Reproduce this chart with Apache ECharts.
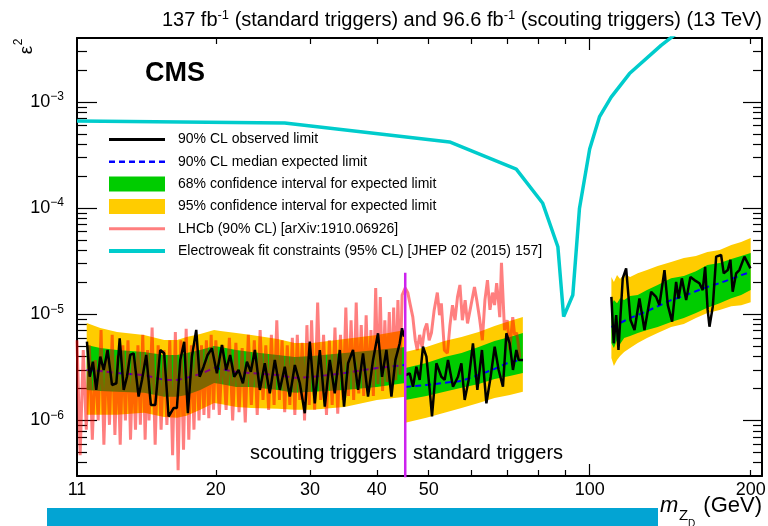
<!DOCTYPE html>
<html><head><meta charset="utf-8">
<script src="https://cdn.jsdelivr.net/npm/echarts@6/dist/echarts.min.js"></script>
<style>html,body{margin:0;padding:0;background:#fff}#c{width:768px;height:526px}</style>
</head><body><div id="c"></div>
<script>
// ---------- axis ticks / labels ----------
const xLabelValues = [11, 20, 30, 40, 50, 100, 200];
const xMajorTicks = [100];
const xMinorTicks = [20, 30, 40, 50, 60, 70, 80, 90, 200];
const yLabelValues = [1e-6, 1e-5, 1e-4, 1e-3];
const yMinorTicks = [4e-7,5e-7,6e-7,7e-7,8e-7,9e-7,2e-6,3e-6,4e-6,5e-6,6e-6,7e-6,8e-6,9e-6,
  2e-5,3e-5,4e-5,5e-5,6e-5,7e-5,8e-5,9e-5,2e-4,3e-4,4e-4,5e-4,6e-4,7e-4,8e-4,9e-4,2e-3,3e-3];

// ---------- scouting region (11.5 - 45 GeV) ----------
const scoutBandMass = [11.47,12.16,13.07,14.68,16.01,16.93,17.63,18.7,19.85,20.4,21.84,23.3,26.1,28.1,30.3,34.8,40.0,45.2];
const scoutYellowHi = [8.28e-6,7.44e-6,6.82e-6,6.39e-6,5.73e-6,5.73e-6,6.12e-6,6.53e-6,7.12e-6,6.97e-6,6.67e-6,6.39e-6,5.86e-6,5.37e-6,5.37e-6,5.86e-6,6.39e-6,7.12e-6];
const scoutGreenHi  = [5.14e-6,4.81e-6,4.61e-6,4.41e-6,4.14e-6,4.14e-6,4.32e-6,4.61e-6,5.03e-6,4.92e-6,4.61e-6,4.41e-6,4.14e-6,3.96e-6,4.05e-6,4.32e-6,4.61e-6,4.92e-6];
const scoutMedian   = [2.99e-6,2.93e-6,2.80e-6,2.68e-6,2.41e-6,2.41e-6,2.52e-6,2.74e-6,3.12e-6,3.06e-6,2.86e-6,2.80e-6,2.68e-6,2.52e-6,2.57e-6,2.80e-6,3.12e-6,3.33e-6];
const scoutGreenLo  = [1.94e-6,1.90e-6,1.86e-6,1.82e-6,1.67e-6,1.67e-6,1.74e-6,1.94e-6,2.26e-6,2.21e-6,2.07e-6,2.07e-6,1.94e-6,1.82e-6,1.86e-6,1.94e-6,2.07e-6,2.26e-6];
const scoutYellowLo = [1.13e-6,1.13e-6,1.13e-6,1.18e-6,1.08e-6,1.06e-6,1.11e-6,1.26e-6,1.46e-6,1.43e-6,1.34e-6,1.31e-6,1.29e-6,1.26e-6,1.26e-6,1.34e-6,1.56e-6,1.67e-6];
const scoutObsMass = [11.48,11.62,11.78,11.95,12.16,12.34,12.55,12.79,13.03,13.22,13.45,13.64,13.83,14.04,14.34,14.55,14.82,15.12,15.41,15.74,
  16.01,16.32,16.67,16.91,17.16,17.45,17.73,18.04,18.38,18.65,18.97,19.30,19.66,20.09,20.53,20.91,21.27,21.64,22.05,22.47,
  22.86,23.25,23.66,24.17,24.69,25.23,25.78,26.34,26.91,27.50,28.10,28.71,29.33,29.97,30.62,31.29,31.97,32.66,33.37,34.10,
  34.73,35.34,36.10,36.89,37.69,38.51,39.35,40.20,40.90,41.68,42.59,43.33,44.14,44.58,44.96];
const scoutObs = [5.52e-6,2.58e-6,3.58e-6,1.94e-6,3.99e-6,2.99e-6,4.61e-6,2.16e-6,2.24e-6,5.94e-6,
  1.94e-6,2.58e-6,4.14e-6,4.29e-6,1.68e-6,2.41e-6,4.14e-6,1.40e-6,1.40e-6,4.61e-6,
  4.29e-6,1.09e-6,1.31e-6,1.31e-6,3.72e-6,5.52e-6,1.17e-6,3.99e-6,7.12e-6,2.58e-6,
  3.21e-6,4.14e-6,4.78e-6,2.78e-6,5.14e-6,2.99e-6,4.14e-6,2.58e-6,2.99e-6,2.24e-6,
  3.58e-6,2.88e-6,4.61e-6,1.94e-6,3.46e-6,1.80e-6,3.72e-6,1.94e-6,3.21e-6,1.68e-6,
  3.33e-6,2.24e-6,1.17e-6,5.52e-6,1.45e-6,4.61e-6,1.35e-6,3.72e-6,1.80e-6,4.61e-6,
  1.35e-6,3.46e-6,4.61e-6,1.94e-6,4.29e-6,1.68e-6,3.72e-6,6.63e-6,2.58e-6,4.61e-6,
  1.68e-6,3.72e-6,5.33e-6,7.38e-6,6.16e-6];

// ---------- standard-trigger region (45 - 75 GeV) ----------
const stdBandMass = [45.2,49.5,53.5,57.6,62.0,66.4,70.9,75.0];
const stdYellowHi = [4.41e-6,4.92e-6,5.61e-6,6.12e-6,6.82e-6,7.76e-6,8.65e-6,9.43e-6];
const stdGreenHi  = [3.12e-6,3.47e-6,3.96e-6,4.32e-6,4.92e-6,5.61e-6,6.12e-6,6.67e-6];
const stdMedian   = [2.07e-6,2.16e-6,2.26e-6,2.36e-6,2.68e-6,3.06e-6,3.56e-6,3.72e-6];
const stdGreenLo  = [1.56e-6,1.70e-6,1.86e-6,2.03e-6,2.21e-6,2.46e-6,2.62e-6,2.80e-6];
const stdYellowLo = [9.50e-7,1.06e-6,1.18e-6,1.31e-6,1.46e-6,1.63e-6,1.74e-6,1.86e-6];
const stdObsMass = [45.3,46.08,46.74,47.42,48.10,48.79,49.51,50.22,50.72,51.69,52.81,53.57,54.34,55.52,56.72,57.56,
  58.38,59.39,60.50,61.66,62.89,64.10,65.29,66.43,67.58,68.84,69.86,70.86,71.87,72.93,73.65,75.03];
const stdObs = [2.68e-6,2.78e-6,2.08e-6,3.21e-6,2.41e-6,4.95e-6,3.99e-6,1.94e-6,1.09e-6,3.46e-6,2.58e-6,2.41e-6,3.72e-6,2.08e-6,2.58e-6,3.46e-6,
  1.56e-6,2.41e-6,5.33e-6,1.94e-6,4.61e-6,1.45e-6,2.58e-6,4.95e-6,2.99e-6,2.08e-6,6.63e-6,5.33e-6,2.99e-6,4.61e-6,3.72e-6,3.72e-6];

// ---------- high-mass region (110 - 200 GeV) ----------
const highBandMass = [109.8,111,112.5,114,116,119,123,128,134,142,150,158,166,175,184,192,200];
const highYellowHi = [2.24e-5,2.01e-5,2.34e-5,2.15e-5,2.39e-5,2.24e-5,2.44e-5,2.61e-5,2.85e-5,3.11e-5,3.39e-5,3.54e-5,3.86e-5,4.03e-5,4.50e-5,4.80e-5,5.23e-5];
const highGreenHi  = [1.22e-5,1.36e-5,1.27e-5,1.42e-5,1.36e-5,1.49e-5,1.52e-5,1.69e-5,1.89e-5,2.19e-5,2.29e-5,2.55e-5,2.91e-5,3.04e-5,3.32e-5,3.54e-5,3.78e-5];
const highMedian   = [7.59e-6,7.76e-6,7.93e-6,8.28e-6,8.65e-6,9.23e-6,9.84e-6,1.07e-5,1.19e-5,1.36e-5,1.49e-5,1.65e-5,1.81e-5,1.97e-5,2.15e-5,2.34e-5,2.50e-5];
const highGreenLo  = [5.37e-6,4.81e-6,5.73e-6,5.25e-6,5.98e-6,6.25e-6,6.67e-6,7.12e-6,7.59e-6,8.47e-6,9.23e-6,1.03e-5,1.15e-5,1.27e-5,1.42e-5,1.52e-5,1.69e-5];
const highYellowLo = [3.88e-6,3.26e-6,3.72e-6,4.05e-6,4.41e-6,4.81e-6,5.37e-6,5.98e-6,6.67e-6,7.59e-6,8.11e-6,9.23e-6,1.03e-5,1.10e-5,1.19e-5,1.22e-5,1.30e-5];
const highObsMass = [109.8,110.9,112.1,113.2,115.3,117.0,119.2,121.3,123.9,126.6,130.3,133.1,135.0,138.0,140.0,142.6,145.1,146.6,148.7,
  151.5,154.3,157.0,160.4,162.7,164.4,166.2,167.5,169.9,172.4,176.1,178.1,181.2,183.3,185.1,187.9,190.5,194.7,199.8];
const highObs = [1.46e-5,5.33e-6,9.84e-6,4.61e-6,2.18e-5,2.71e-5,8.84e-6,7.12e-6,1.41e-5,7.12e-6,1.63e-5,1.46e-5,1.22e-5,2.61e-5,1.22e-5,8.52e-6,2.02e-5,1.41e-5,2.18e-5,
  1.36e-5,2.25e-5,2.10e-5,1.96e-5,1.69e-5,2.80e-5,1.10e-5,7.64e-6,1.18e-5,3.49e-5,3.62e-5,2.43e-5,2.61e-5,3.25e-5,1.63e-5,2.43e-5,2.61e-5,3.49e-5,2.71e-5];

// ---------- LHCb (90% CL) ----------
const lhcbMass = [11.00,11.15,11.30,11.45,11.60,11.75,11.90,12.05,12.20,12.35,12.50,12.65,12.80,12.95,13.10,13.25,13.40,13.55,13.70,13.85,14.00,14.15,14.30,14.45,14.60,14.75,14.90,
  15.0,15.2,15.4,15.6,15.8,16.0,16.2,16.4,16.6,16.8,17.0,17.2,17.4,17.6,17.8,18.0,18.2,18.4,18.6,18.8,19.0,19.2,19.4,19.6,19.8,
  20.0,20.3,20.6,20.9,21.2,21.5,21.8,22.1,22.4,22.7,23.0,23.3,23.6,23.9,24.2,24.5,24.8,25.1,25.4,25.7,26.0,26.3,26.6,26.9,27.2,27.5,27.8,28.1,28.4,28.7,29.0,29.3,29.6,29.9,
  30.2,30.6,31.0,31.4,31.8,32.2,32.6,33.0,33.4,33.8,34.2,34.6,35.0,35.4,35.8,36.2,36.6,37.0,37.4,37.8,38.2,38.6,39.0,39.4,39.8,40.2,40.6,41.0,41.4,41.8,42.2,42.6,43.0,43.4,43.8,44.2,44.6,
  45.2,45.7,46.2,46.7,47.2,47.6,48.1,48.6,49.1,49.6,50.1,50.6,51.2,51.9,52.4,52.8,53.2,53.5,54.2,54.8,
  55.4,56.0,56.6,57.2,57.8,58.5,59.1,60.0,60.9,61.5,62.2,63.0,63.7,64.4,65.1,65.8,66.4,67.0,67.5,67.9,
  68.4,68.9,69.3,70.1,70.9,71.8,72.4,73.0,73.6,74.0];
const lhcbVal = [5.7e-6,4.7e-7,4.6e-6,8.2e-7,5.1e-6,6.6e-7,3.7e-6,1.0e-6,7.1e-6,5.9e-7,4.6e-6,9.1e-7,6.4e-6,7.3e-7,4.1e-6,5.9e-7,5.1e-6,1.0e-6,5.7e-6,6.6e-7,4.1e-6,8.2e-7,5.1e-6,9.1e-7,6.4e-6,6.6e-7,4.6e-6,
  1.0e-6,7.5e-6,5.9e-7,5.1e-6,8.2e-7,4.6e-6,9.1e-7,5.7e-6,4.7e-7,6.8e-6,3.4e-7,5.7e-6,5.3e-7,7.3e-6,6.6e-7,5.1e-6,8.2e-7,5.4e-6,1.0e-6,5.1e-6,1.13e-6,5.7e-6,1.05e-6,6.4e-6,1.26e-6,
  5.7e-6,1.13e-6,5.1e-6,1.26e-6,6.0e-6,1.0e-6,5.4e-6,1.2e-6,4.8e-6,9.6e-7,6.4e-6,1.4e-6,5.7e-6,1.13e-6,7.1e-6,1.56e-6,5.1e-6,1.26e-6,6.4e-6,1.4e-6,8.8e-6,1.56e-6,5.7e-6,1.2e-6,5.1e-6,1.4e-6,6.0e-6,1.13e-6,6.4e-6,1.56e-6,5.4e-6,1.0e-6,7.9e-6,1.4e-6,
  8.8e-6,1.26e-6,1.29e-5,1.56e-6,6.4e-6,1.13e-6,5.7e-6,1.4e-6,7.5e-6,1.16e-6,6.4e-6,1.56e-6,1.16e-5,1.7e-6,8.8e-6,1.56e-6,1.29e-5,1.8e-6,7.9e-6,1.7e-6,9.8e-6,1.9e-6,7.1e-6,1.7e-6,1.77e-5,2.2e-6,1.45e-5,1.9e-6,8.8e-6,2.3e-6,1.05e-5,2.0e-6,1.16e-5,2.4e-6,1.36e-5,2.7e-6,1.52e-5,
  1.77e-5,1.60e-5,1.22e-5,9.4e-6,5.7e-6,4.6e-6,6.4e-6,4.9e-6,7.1e-6,8.2e-6,5.7e-6,6.7e-6,1.10e-5,1.60e-5,9.8e-6,1.27e-5,7.1e-6,4.6e-6,4.3e-6,7.9e-6,
  1.22e-5,8.8e-6,1.45e-5,1.89e-5,8.8e-6,1.36e-5,8.2e-6,1.22e-5,1.81e-5,1.36e-5,9.4e-6,5.7e-6,1.36e-5,2.10e-5,1.10e-5,1.60e-5,1.22e-5,1.97e-5,1.36e-5,9.4e-6,
  3.05e-5,1.36e-5,7.1e-6,8.8e-6,4.6e-6,9.4e-6,6.4e-6,6.7e-6,5.1e-6,3.9e-6];

// ---------- Electroweak fit constraints ----------
const ewMass = [11, 26.9, 54.7, 72.9, 81.7, 87.2, 89.4, 93.0, 95.7, 100, 104.3, 109.7, 118.7, 136, 150];
const ewVal  = [6.62e-4, 6.34e-4, 4.2e-4, 2.33e-4, 1.11e-4, 4.33e-5, 9.5e-6, 1.52e-5, 9.93e-5, 3.6e-4, 7.22e-4, 1.11e-3, 1.85e-3, 3.41e-3, 5.0e-3];

// ---------- trigger boundary ----------
const boundaryMass = 45.2;
const boundaryTop = 2.46e-5;

// ================= chart =================
const FONT = '"Liberation Sans", Arial, Helvetica, sans-serif';
const N_OBS = '90% CL observed limit';
const N_MED = '90% CL median expected limit';
const N_68 = '68% confidence interval for expected limit';
const N_95 = '95% confidence interval for expected limit';
const N_LHCB = 'LHCb (90% CL) [arXiv:1910.06926]';
const N_EW = 'Electroweak fit constraints (95% CL) [JHEP 02 (2015) 157]';
const YELLOW = '#FFCC00', GREEN = '#00CC00';

const zip = (a, b) => a.map((m, i) => [m, b[i]]);

function band(name, masses, lo, hi, color, z) {
  const data = masses.map((m, i) => [m, lo[i], hi[i]]);
  return {
    type: 'custom', name: name, z: z, silent: true,
    itemStyle: {color: color},
    encode: {x: 0, y: [1, 2]},
    data: data,
    renderItem: function (params, api) {
      if (params.dataIndex !== 0) return null;
      const up = data.map(d => api.coord([d[0], d[2]]));
      const dn = data.map(d => api.coord([d[0], d[1]])).reverse();
      return {type: 'polygon', shape: {points: up.concat(dn)}, style: {fill: color}};
    }
  };
}
function line(name, data, style, z) {
  return {type: 'line', name: name, data: data, symbol: 'none', showSymbol: false, z: z,
    lineStyle: style, itemStyle: {color: style.color}, clip: true, silent: true};
}

const X_MIN = 11, X_MAX = 210, Y_MIN = 3e-7, Y_MAX = 4e-3;
const tickLS = {color: '#000', width: 1.2};
function xAx(pos, len, ticks, showLine, labels) {
  return {
    type: 'log', logBase: 10, min: X_MIN, max: X_MAX, position: pos,
    axisLine: {show: showLine, onZero: false, lineStyle: {color: '#000', width: 2}},
    axisTick: {show: true, inside: true, length: len, customValues: ticks, lineStyle: tickLS},
    axisLabel: labels ? {show: true, customValues: labels, fontSize: 18, color: '#000', fontFamily: FONT, margin: 5,
      formatter: v => String(Math.round(v))} : {show: false},
    splitLine: {show: false}, minorTick: {show: false}, minorSplitLine: {show: false}
  };
}
function yAx(pos, len, ticks, showLine, labels) {
  return {
    type: 'log', logBase: 10, min: Y_MIN, max: Y_MAX, position: pos,
    axisLine: {show: showLine, onZero: false, lineStyle: {color: '#000', width: 2}},
    axisTick: {show: true, inside: true, length: len, customValues: ticks, lineStyle: tickLS},
    axisLabel: labels ? {show: true, customValues: labels, color: '#000', fontFamily: FONT, margin: 13,
      formatter: v => '{a|10}{b|−' + Math.abs(Math.round(Math.log10(v))) + '}',
      rich: {a: {fontSize: 18, lineHeight: 22, verticalAlign: 'middle', fontFamily: FONT, color: '#000'},
             b: {fontSize: 12, lineHeight: 12, verticalAlign: 'top', fontFamily: FONT, color: '#000'}}} : {show: false},
    splitLine: {show: false}, minorTick: {show: false}, minorSplitLine: {show: false}
  };
}

const noSym = {opacity: 0};
const chart = echarts.init(document.getElementById('c'), null, {renderer: 'canvas'});
chart.setOption({
  animation: false,
  backgroundColor: '#fff',
  textStyle: {fontFamily: FONT},
  title: {
    text: '137 fb{s|-1} (standard triggers) and 96.6 fb{s|-1} (scouting triggers) (13 TeV)',
    right: 6, top: 9, padding: 0,
    textStyle: {fontSize: 20, fontWeight: 'normal', color: '#000', fontFamily: FONT, lineHeight: 22,
      rich: {s: {fontSize: 13, lineHeight: 13, verticalAlign: 'top', color: '#000', fontFamily: FONT}}}
  },
  grid: {left: 77, right: 6, top: 38, bottom: 50, containLabel: false, outerBoundsMode: 'none'},
  xAxis: [
    xAx('bottom', 12, xMajorTicks, true, xLabelValues),
    xAx('bottom', 6, xMinorTicks, false, null),
    xAx('top', 12, xMajorTicks, true, null),
    xAx('top', 6, xMinorTicks, false, null)
  ],
  yAxis: [
    yAx('left', 20, yLabelValues, true, yLabelValues),
    yAx('left', 10, yMinorTicks, false, null),
    yAx('right', 19, yLabelValues, true, null),
    yAx('right', 9, yMinorTicks, false, null)
  ],
  legend: {
    orient: 'vertical', left: 107, top: 132, itemWidth: 56, itemHeight: 15, itemGap: 7.3,
    selectedMode: false, padding: 0,
    textStyle: {fontSize: 14, color: '#000', fontFamily: FONT, padding: [0, 0, 0, 8], lineHeight: 15},
    data: [
      {name: N_OBS, itemStyle: noSym, lineStyle: {width: 3}},
      {name: N_MED, itemStyle: noSym, lineStyle: {width: 2.5}},
      {name: N_68, icon: 'rect'}, {name: N_95, icon: 'rect'},
      {name: N_LHCB, itemStyle: noSym, lineStyle: {width: 3}},
      {name: N_EW, itemStyle: noSym, lineStyle: {width: 4}}
    ]
  },
  graphic: [
    {type: 'text', x: 145, y: 74, style: {text: 'CMS', font: 'bold 27px ' + FONT, fill: '#000', textVerticalAlign: 'middle'}},
    {type: 'text', x: 27, y: 50, rotation: Math.PI / 2, style: {text: 'ε', font: '19px ' + FONT, fill: '#000', textAlign: 'center', textVerticalAlign: 'middle'}},
    {type: 'text', x: 19, y: 42, rotation: Math.PI / 2, style: {text: '2', font: '12px ' + FONT, fill: '#000', textAlign: 'center', textVerticalAlign: 'middle'}},
    {type: 'text', x: 250, y: 453, style: {text: 'scouting triggers', font: '20px ' + FONT, fill: '#000', textVerticalAlign: 'middle'}},
    {type: 'text', x: 413, y: 453, style: {text: 'standard triggers', font: '20px ' + FONT, fill: '#000', textVerticalAlign: 'middle'}},
    {type: 'text', x: 660, y: 506, style: {text: 'm', font: 'italic 22px ' + FONT, fill: '#000', textVerticalAlign: 'middle'}},
    {type: 'text', x: 679, y: 516, style: {text: 'Z', font: '15px ' + FONT, fill: '#000', textVerticalAlign: 'middle'}},
    {type: 'text', x: 688, y: 524, style: {text: 'D', font: '10px ' + FONT, fill: '#000', textVerticalAlign: 'middle'}},
    {type: 'text', x: 762, y: 506, style: {text: '(GeV)', font: '22px ' + FONT, fill: '#000', textAlign: 'right', textVerticalAlign: 'middle'}},
    {type: 'rect', shape: {x: 47, y: 508, width: 611, height: 20}, style: {fill: '#03A4D3'}, z: 100}
  ],
  series: [
    band(N_95, scoutBandMass, scoutYellowLo, scoutYellowHi, YELLOW, 1),
    band(N_95, stdBandMass, stdYellowLo, stdYellowHi, YELLOW, 1),
    band(N_95, highBandMass, highYellowLo, highYellowHi, YELLOW, 1),
    band(N_68, scoutBandMass, scoutGreenLo, scoutGreenHi, GREEN, 2),
    band(N_68, stdBandMass, stdGreenLo, stdGreenHi, GREEN, 2),
    band(N_68, highBandMass, highGreenLo, highGreenHi, GREEN, 2),
    line(N_MED, zip(scoutBandMass, scoutMedian), {color: '#0000FF', width: 2, type: [6, 4]}, 3),
    line(N_MED, zip(stdBandMass, stdMedian), {color: '#0000FF', width: 2, type: [6, 4]}, 3),
    line(N_MED, zip(highBandMass, highMedian), {color: '#0000FF', width: 2, type: [6, 4]}, 3),
    line(N_LHCB, zip(lhcbMass, lhcbVal), {color: 'rgba(255,0,0,0.5)', width: 3}, 4),
    line(N_OBS, zip(scoutObsMass, scoutObs), {color: '#000', width: 2.5}, 5),
    line(N_OBS, zip(stdObsMass, stdObs), {color: '#000', width: 2.5}, 5),
    line(N_OBS, zip(highObsMass, highObs), {color: '#000', width: 2.5}, 5),
    line(N_EW, zip(ewMass, ewVal), {color: '#00CCCC', width: 3.5}, 5),
    line('', [[boundaryMass, boundaryTop], [boundaryMass, Y_MIN * 0.9]], {color: '#CC22EE', width: 2.5}, 6)
  ]
});
</script></body></html>
